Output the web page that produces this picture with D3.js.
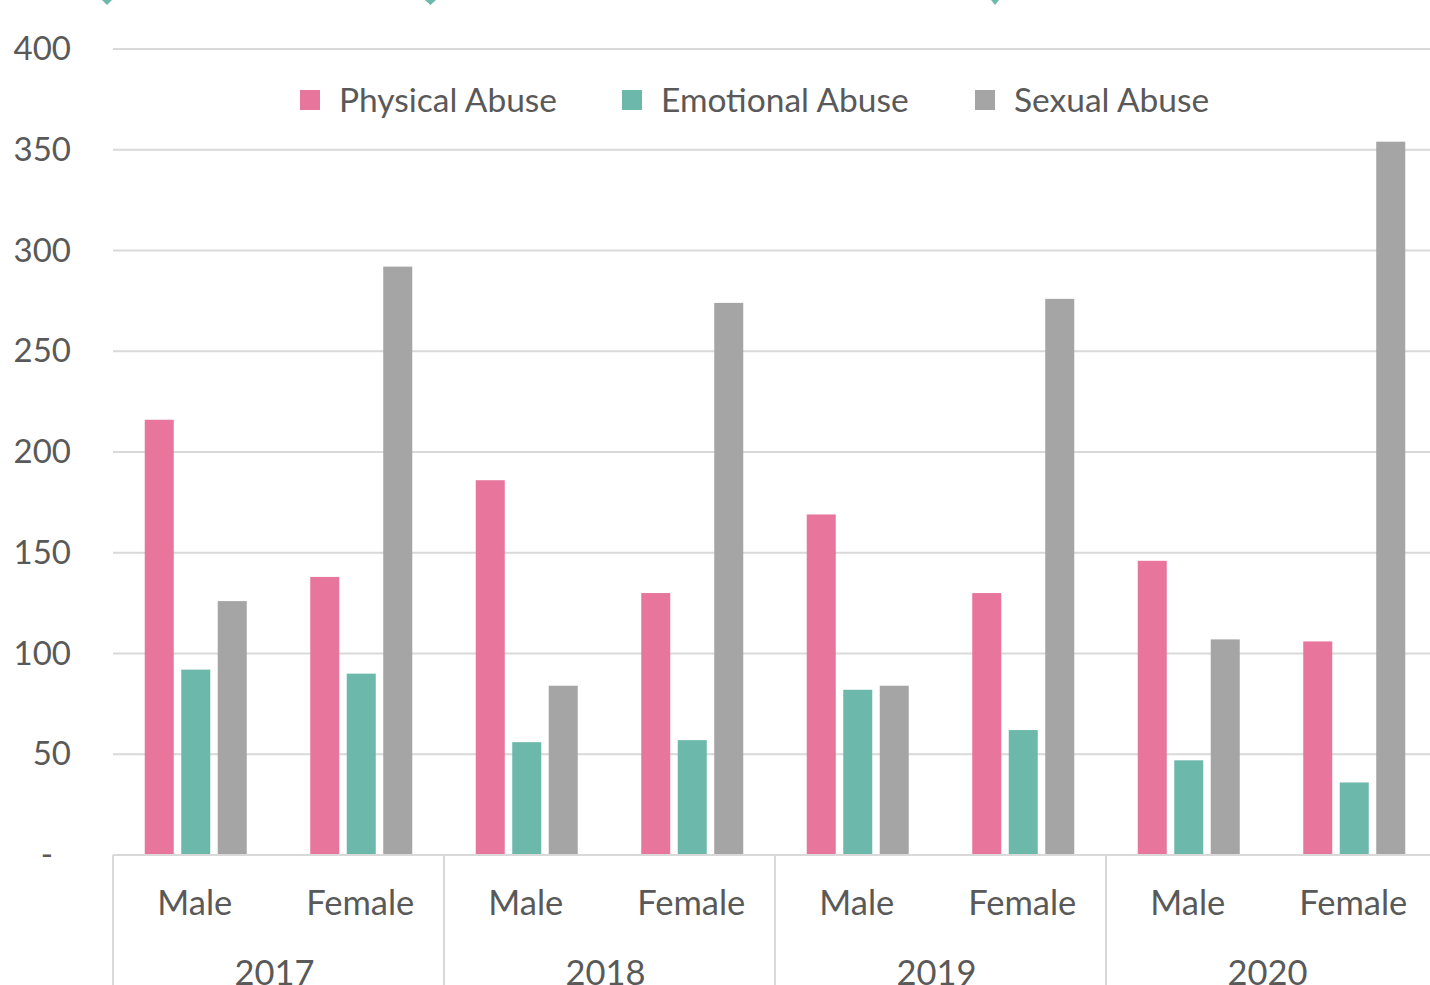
<!DOCTYPE html>
<html><head><meta charset="utf-8">
<script src="https://cdn.jsdelivr.net/npm/d3@7"></script>
<style>body{margin:0;background:#fff}svg{display:block}</style>
</head><body><svg id="c" width="1430" height="985"></svg>
<script>
const years = ["2017","2018","2019","2020"];
const genders = ["Male","Female"];
const seriesNames = ["Physical Abuse","Emotional Abuse","Sexual Abuse"];
const colors = ["#e8759c","#6cb8ab","#a5a5a5"];
const physical = [216,138,186,130,169,130,146,106];
const emotional = [92,90,56,57,82,62,47,36];
const sexual = [126,292,84,274,84,276,107,354];
const yTicks = [0,50,100,150,200,250,300,350,400];
const yTickLabels = ["-","50","100","150","200","250","300","350","400"];

const svg = d3.select("#c");
const font = "Lato, 'Liberation Sans', sans-serif";
const textColor = "#595959";
const left = 113, right = 1437, y0 = 855, yTop = 49;

const cats = [];
years.forEach(y => genders.forEach(g => cats.push(y + "|" + g)));
const series = [physical, emotional, sexual];

const x = d3.scaleBand().domain(cats).range([left, right]).paddingInner(0).paddingOuter(0);
const xs = d3.scaleBand().domain(seriesNames).range([0, x.bandwidth()]).paddingInner(0.205).paddingOuter(0.87);
const y = d3.scaleLinear().domain([0, 400]).range([y0, yTop]);

// gridlines
svg.append("g").selectAll("line").data(yTicks.filter(d => d > 0)).join("line")
  .attr("x1", left).attr("x2", 1430).attr("y1", d => y(d)).attr("y2", d => y(d))
  .attr("stroke", "#d9d9d9").attr("stroke-width", 2);

// y labels
svg.append("g").selectAll("text").data(yTicks).join("text")
  .attr("x", (d,i) => i === 0 ? 53 : 71).attr("y", d => y(d) + 11)
  .attr("text-anchor", "end").attr("font-family", font).attr("font-size", 33)
  .attr("fill", textColor).text((d,i) => yTickLabels[i]);

// bars
seriesNames.forEach((s, si) => {
  svg.append("g").selectAll("rect").data(cats).join("rect")
    .attr("x", c => x(c) + xs(s))
    .attr("width", xs.bandwidth())
    .attr("y", (c,i) => y(series[si][i]))
    .attr("height", (c,i) => y0 - y(series[si][i]))
    .attr("fill", colors[si]);
});

// x axis line
svg.append("line").attr("x1", left).attr("x2", 1430).attr("y1", y0).attr("y2", y0)
  .attr("stroke", "#d9d9d9").attr("stroke-width", 2);

// year separators
const yearScale = d3.scaleBand().domain(years).range([left, right]);
svg.append("g").selectAll("line").data(years).join("line")
  .attr("x1", d => yearScale(d)).attr("x2", d => yearScale(d))
  .attr("y1", y0).attr("y2", 985).attr("stroke", "#d9d9d9").attr("stroke-width", 2);

// gender labels
svg.append("g").selectAll("text").data(cats).join("text")
  .attr("x", c => x(c) + x.bandwidth()/2 - 1).attr("y", 915)
  .attr("text-anchor", "middle").attr("font-family", font).attr("font-size", 34.5)
  .attr("fill", textColor).text(c => c.split("|")[1]);

// year labels
svg.append("g").selectAll("text").data(years).join("text")
  .attr("x", d => yearScale(d) + yearScale.bandwidth()/2 - 4).attr("y", 985)
  .attr("text-anchor", "middle").attr("font-family", font).attr("font-size", 34.5)
  .attr("fill", textColor).text(d => d);

// legend
const legendX = [300, 622, 975];
const lg = svg.append("g");
seriesNames.forEach((s, i) => {
  lg.append("rect").attr("x", legendX[i]).attr("y", 90).attr("width", 20).attr("height", 20).attr("fill", colors[i]);
  lg.append("text").attr("x", legendX[i] + 39).attr("y", 112)
    .attr("font-family", font).attr("font-size", 33.5).attr("fill", textColor).text(s);
});

// cropped marks at top edge
const marks = [[102,112],[425,436],[991,999]];
svg.append("g").selectAll("path").data(marks).join("path")
  .attr("d", d => `M${d[0]},0 L${d[1]},0 L${(d[0]+d[1])/2},5 Z`)
  .attr("fill", "#6cb8ab");
</script></body></html>
